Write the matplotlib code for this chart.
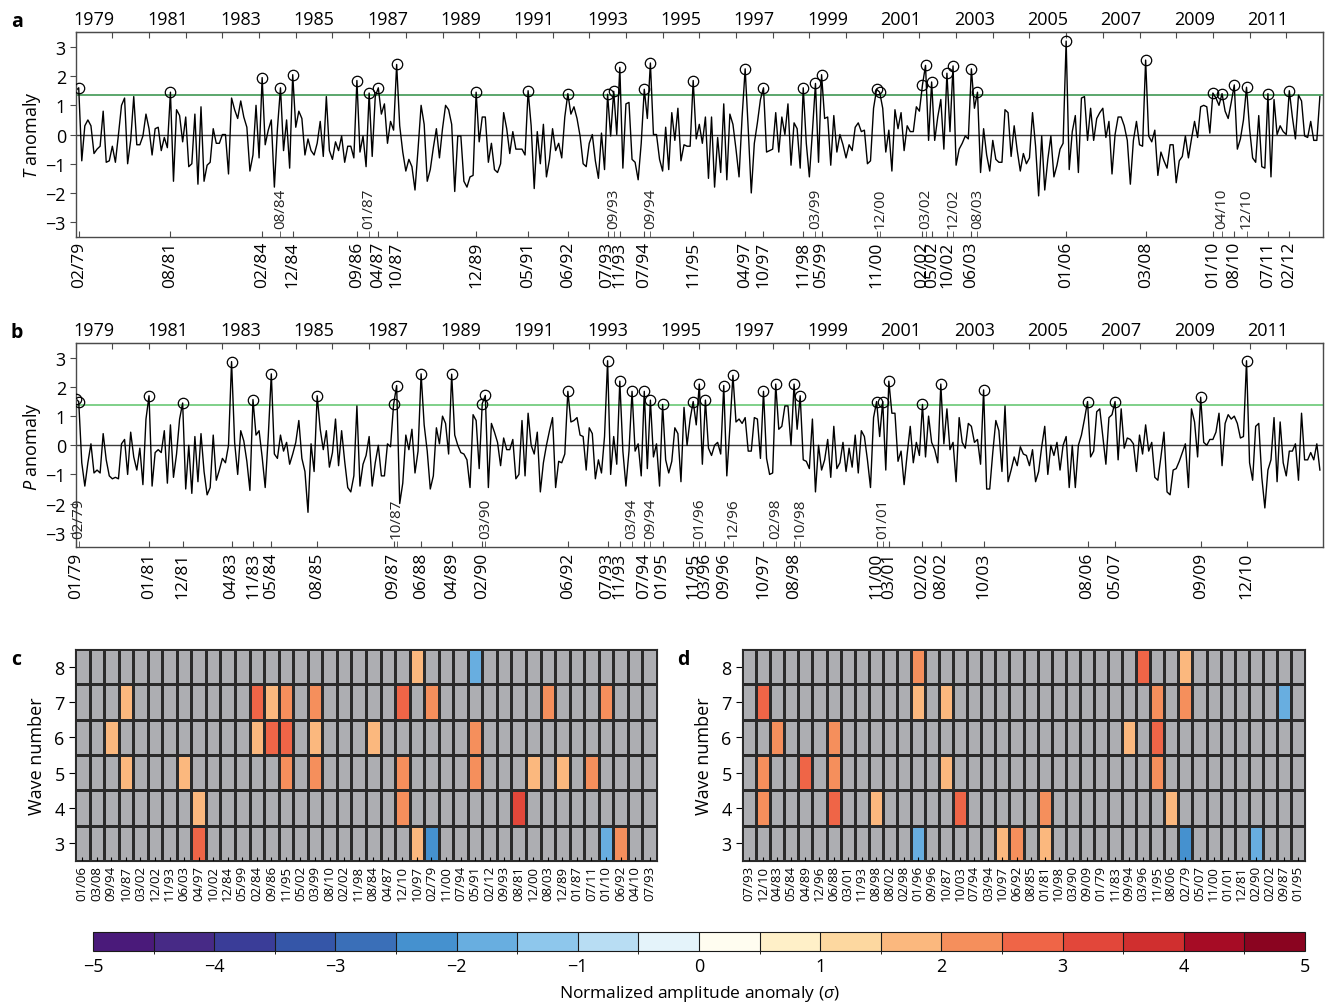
import numpy as np
import matplotlib as mpl
import matplotlib.pyplot as plt
from matplotlib.colors import ListedColormap, BoundaryNorm
from matplotlib.transforms import blended_transform_factory

plt.rcParams['font.family'] = ['Open Sans', 'DejaVu Sans']
plt.rcParams['mathtext.fontset'] = 'custom'
plt.rcParams['mathtext.it'] = 'Open Sans:italic'
plt.rcParams['mathtext.rm'] = 'Open Sans'

# monthly anomalies, Jan 1979 .. Dec 2012 (one row per year)
t_anom = [
    1.5, 1.6, -0.9, 0.3, 0.5, 0.3, -0.65, -0.5, -0.4, 0.8, -0.95, -0.9,
    -0.4, -0.95, 0.0, 1.0, 1.25, -1.0, -0.2, 1.3, -0.35, -0.35, -0.05, 0.7,
    0.2, -0.7, 0.2, 0.25, -0.55, -0.1, -0.45, 1.45, -1.6, 0.85, 0.65, -0.25,
    0.6, -1.1, -1.0, 0.7, -1.7, 0.95, -1.6, -1.05, -0.95, 0.2, -0.3, -0.3,
    0.0, 0.0, -1.35, 1.25, 0.85, 0.55, 1.15, 0.6, 0.25, -1.25, -0.7, 1.0,
    -0.8, 1.95, -0.35, 0.15, 0.5, -1.8, 0.2, 1.6, -0.55, 0.5, -1.15, 2.05,
    0.25, 0.8, 0.55, -0.7, -0.15, -0.55, -0.7, -0.3, 0.45, -0.75, 1.3, -0.55,
    -0.85, -0.25, -0.55, -0.05, -0.95, -0.4, -0.4, -0.8, 1.85, -0.6, -0.05, -1.1,
    1.42, -0.75, 1.3, 1.6, 0.7, 1.05, -0.3, 0.45, 0.15, 2.4, 0.3, -0.6,
    -1.25, -0.85, -1.1, -1.9, -0.5, 1.0, 0.35, -1.6, -1.2, -0.45, 0.2, -0.8,
    0.2, 1.0, 0.85, 0.35, -1.95, -0.05, -0.05, -1.6, -1.8, -1.45, -1.4, 1.45,
    -0.25, 0.6, 0.6, -0.95, -0.3, -1.2, -1.3, -1.0, 0.75, 0.2, -0.65, 0.1,
    -0.5, -0.5, -0.5, -0.7, 1.5, 0.3, -1.85, 0.1, -1.0, 0.35, -1.45, -0.85,
    0.2, -0.55, -0.3, -0.8, 0.6, 1.4, 0.7, 0.95, 0.55, -0.05, -1.0, -1.1,
    -0.3, 0.0, -0.9, -1.5, 0.05, -1.2, 1.38, -0.05, 1.48, 0.0, 2.3, -1.15,
    1.05, 1.1, -0.85, -0.95, -1.55, -0.3, 1.55, 0.55, 2.45, 0.0, 0.0, -0.85,
    -1.25, 0.25, -1.2, 0.75, -0.2, 0.9, -0.9, -0.35, -0.4, -0.4, 1.85, -0.15,
    0.35, -0.3, 0.6, -1.5, 0.6, -1.8, -0.1, -1.3, 1.05, -1.55, 0.7, 0.35,
    -0.5, -1.45, 0.6, 2.25, 0.2, -2.0, -0.3, 0.4, 1.2, 1.6, -0.6, -0.55,
    -0.5, 0.75, -0.6, 0.6, 0.0, 1.05, -1.05, 0.4, 0.2, -1.15, 1.6, -0.3,
    -1.45, 0.1, 1.75, -0.95, 2.05, 0.55, 0.6, -1.05, 0.65, -0.6, 0.0, -0.35,
    -0.8, -0.35, -0.55, 0.25, 0.4, 0.1, 0.15, -1.0, -0.9, 0.9, 1.55, 1.45,
    0.9, -0.6, 0.15, -1.25, 0.85, 0.2, 0.75, -0.55, 0.3, 0.1, 0.1, 0.95,
    0.8, 1.7, 2.37, -0.2, 1.8, -0.2, 0.6, 1.2, -0.5, 2.1, 0.1, 2.35,
    -1.05, -0.5, -0.3, -0.05, -0.15, 2.25, 0.9, 1.45, -1.3, 0.2, -0.7, -1.25,
    -0.2, -0.85, -0.95, -0.95, 0.85, 0.75, -0.75, 0.3, -0.55, -1.25, -0.65, -1.0,
    -0.8, 0.75, -0.4, -2.1, -0.05, -1.9, -0.85, -0.05, -1.45, -1.05, -0.5, -0.3,
    3.2, -1.2, 0.1, 0.65, -1.3, 1.25, 1.3, -0.2, 0.9, -0.2, 0.55, 0.75,
    0.9, -0.1, 0.45, -1.35, 0.0, 0.6, 0.6, 0.3, -0.2, -1.7, -0.2, 0.45,
    -0.35, -0.4, 2.55, -0.05, -0.25, 0.15, -1.4, -0.6, -0.9, -1.15, -0.35, -0.35,
    -1.65, -0.9, -0.75, -0.05, -0.8, -0.15, 0.45, -0.1, 0.95, 1.0, 0.95, 0.05,
    1.42, 1.25, 1.0, 1.4, 0.8, 0.55, 1.1, 1.7, -0.5, -0.15, 0.5, 1.62,
    0.2, -0.8, -0.95, 0.65, -1.1, -1.15, 1.4, -1.45, 1.2, 0.0, 0.3, 0.1,
    0.0, 1.5, 0.6, -0.15, 1.35, 1.15, -0.05, -0.1, 0.45, -0.2, -0.2, 1.3,
]

p_anom = [
    1.6, 1.5, -0.6, -1.4, -0.6, 0.05, -0.95, -0.85, -0.95, 0.4, -0.5, -1.05,
    -1.15, -1.1, -1.15, 0.05, 0.2, -1.0, 0.45, -0.4, -0.85, -0.1, -1.35, 0.9,
    1.7, -1.4, -0.25, -0.15, -0.25, 0.5, -1.3, 0.7, -1.1, -0.3, 0.9, 1.45,
    -1.5, 0.0, -1.65, 0.3, -1.25, 0.4, -0.9, -1.7, -1.45, 0.35, -1.2, -0.85,
    -0.45, -0.6, 0.0, 2.87, 0.1, -1.0, 0.5, 0.15, -0.55, -1.55, 1.57, 0.35,
    0.5, -0.4, -1.45, 0.3, 2.45, -0.3, -0.45, 0.35, -0.2, 0.1, -0.65, -0.3,
    0.1, 0.85, -0.45, -0.9, -2.3, 0.05, -0.9, 1.7, 0.55, -0.15, 0.5, -0.75,
    -0.25, 0.9, -0.7, 0.5, -0.55, -1.45, -1.6, -1.05, 1.35, -1.4, -0.65, -0.35,
    0.3, -1.4, -0.6, 0.0, -1.05, -1.05, 0.05, -0.05, 1.4, 2.05, -2.0, -1.3,
    0.35, -0.15, 0.55, -0.95, -0.2, 2.45, 0.7, -0.2, -1.5, -1.05, 0.6, 0.05,
    1.0, 0.75, -0.3, 2.44, 0.35, 0.0, -0.25, -0.3, -0.5, -1.45, 1.05, 0.85,
    -0.8, 1.43, 1.71, -1.45, 0.75, 0.45, 0.1, -0.7, 0.25, -0.15, -0.15, 0.2,
    -1.15, -1.0, 0.85, -1.05, 1.1, 0.0, -0.3, 0.45, -1.6, -0.6, 0.0, 0.5,
    0.95, -1.45, -0.55, -0.6, -0.3, 1.85, 0.8, 0.85, 0.95, 0.35, 0.3, -0.85,
    0.6, 0.4, -1.15, -0.5, -0.95, 0.3, 2.9, -1.0, 0.3, -0.65, 2.2, -0.2,
    -1.4, -0.2, 1.85, -0.2, 0.05, -1.05, 1.85, -0.8, 1.55, -0.4, 0.05, -1.4,
    1.4, -0.5, -0.95, -0.55, 0.6, 0.4, -1.25, 1.3, 0.0, 0.9, 1.5, 0.7,
    2.1, -0.65, 1.55, -0.1, -0.35, 0.0, 0.1, -0.3, 2.05, -1.05, 0.6, 2.4,
    0.8, 0.9, 0.75, 0.95, -0.2, -0.2, 0.95, 0.9, -0.45, 1.85, -0.45, -1.0,
    -0.95, 2.1, 0.55, 0.65, 1.35, 1.35, 0.0, 2.1, 0.55, 1.7, -0.5, -0.55,
    -0.8, 0.9, -1.6, 0.0, -0.85, -0.5, 0.2, -1.1, 0.65, -0.8, -0.6, 0.1,
    -0.9, -0.1, -0.75, 0.35, -0.95, 0.5, 0.3, -0.5, -1.45, 0.95, 1.5, 0.3,
    1.5, -0.85, 2.2, 1.1, 1.1, -0.55, -0.2, -1.35, -0.3, 0.65, -0.6, 0.1,
    -0.35, 1.4, -0.4, 1.0, 0.1, -0.15, -0.6, 2.1, 0.05, 1.25, -0.15, 0.1,
    -1.25, 0.95, 0.1, -0.1, 0.75, 0.65, 0.1, 0.2, -0.65, 1.9, -1.5, -1.5,
    -0.25, 0.85, 0.5, -0.9, 1.35, -1.25, -0.85, -0.4, -0.7, -0.05, -0.3, -0.35,
    -0.7, -0.15, -1.25, -0.9, -0.05, 0.65, -1.0, 0.0, -0.35, 0.1, -0.85, 0.0,
    0.3, -1.45, 0.0, -1.45, 0.0, 0.35, 0.9, 1.5, -0.4, -0.2, 1.15, 1.25,
    0.3, -0.65, 0.95, 1.05, 1.5, -0.5, 1.25, -0.1, 0.25, 0.2, 0.05, -0.9,
    0.35, -0.3, 0.7, -0.2, 0.1, -1.1, -1.2, -0.4, 0.45, -1.6, -1.7, -0.85,
    -0.8, -0.55, -0.25, 0.05, -1.45, 1.25, 0.8, -0.4, 1.65, 0.1, 0.0, 0.2,
    0.2, 0.45, 1.1, -0.7, 0.75, 1.05, 0.9, 1.0, 0.75, 0.25, 0.3, 2.9,
    -0.6, -1.2, 0.65, 0.75, -1.1, -2.15, -0.85, -0.5, 0.95, -1.25, 0.8, -0.6,
    -1.05, -0.2, -0.2, 0.05, -1.2, 1.1, -0.5, -0.5, -0.25, -0.5, 0.05, -0.85,
]

threshold = 1.37

# extreme events: labels under the axis / labels drawn inside the axis
t_events_out = ['02/79', '08/81', '02/84', '12/84', '09/86', '04/87', '10/87', '12/89',
                '05/91', '06/92', '07/93', '11/93', '07/94', '11/95', '04/97', '10/97',
                '11/98', '05/99', '11/00', '02/02', '05/02', '10/02', '06/03', '01/06',
                '03/08', '01/10', '08/10', '07/11', '02/12']
t_events_in = ['08/84', '01/87', '09/93', '09/94', '03/99', '12/00', '03/02', '12/02',
               '08/03', '04/10', '12/10']
p_events_out = ['01/79', '01/81', '12/81', '04/83', '11/83', '05/84', '08/85', '09/87',
                '06/88', '04/89', '02/90', '06/92', '07/93', '11/93', '07/94', '01/95',
                '11/95', '03/96', '09/96', '10/97', '08/98', '11/00', '03/01', '02/02',
                '08/02', '10/03', '08/06', '05/07', '09/09', '12/10']
p_events_in = ['02/79', '10/87', '03/90', '03/94', '09/94', '01/96', '12/96', '02/98',
               '10/98', '01/01']

c_columns = ['01/06', '03/08', '09/94', '10/87', '03/02', '12/02', '11/93', '06/03',
             '04/97', '10/02', '12/84', '05/99', '02/84', '09/86', '11/95', '05/02',
             '03/99', '08/10', '02/02', '11/98', '08/84', '04/87', '12/10', '10/97',
             '02/79', '11/00', '07/94', '05/91', '02/12', '09/93', '08/81', '12/00',
             '08/03', '12/89', '01/87', '07/11', '01/10', '06/92', '04/10', '07/93']
# (wave number, event, normalized amplitude anomaly) for significant cells
c_cells = [
    (8, '10/97', 1.75), (8, '05/91', -1.75),
    (7, '10/87', 1.75), (7, '02/84', 2.75), (7, '09/86', 1.75), (7, '11/95', 2.25),
    (7, '03/99', 2.25), (7, '12/10', 2.75), (7, '02/79', 2.25), (7, '08/03', 2.25),
    (7, '01/10', 2.25),
    (6, '09/94', 1.75), (6, '02/84', 1.75), (6, '09/86', 2.75), (6, '11/95', 2.75),
    (6, '03/99', 1.75), (6, '08/84', 1.75), (6, '05/91', 2.25),
    (5, '10/87', 1.75), (5, '06/03', 1.75), (5, '11/95', 2.25), (5, '03/99', 2.25),
    (5, '12/10', 2.25), (5, '05/91', 2.25), (5, '12/00', 1.75), (5, '12/89', 1.75),
    (5, '07/11', 2.25),
    (4, '04/97', 1.75), (4, '12/10', 2.25), (4, '08/81', 3.25),
    (3, '04/97', 2.75), (3, '10/97', 1.75), (3, '02/79', -2.25), (3, '01/10', -1.75),
    (3, '06/92', 2.25),
]

d_columns = ['07/93', '12/10', '04/83', '05/84', '04/89', '12/96', '06/88', '03/01',
             '11/93', '08/98', '08/02', '02/98', '01/96', '09/96', '10/87', '10/03',
             '07/94', '03/94', '10/97', '06/92', '08/85', '01/81', '10/98', '03/90',
             '09/09', '01/79', '11/83', '09/94', '03/96', '11/95', '08/06', '02/79',
             '05/07', '11/00', '01/01', '12/81', '02/90', '02/02', '09/87', '01/95']
d_cells = [
    (8, '01/96', 2.25), (8, '03/96', 2.75), (8, '02/79', 1.75),
    (7, '12/10', 2.75), (7, '01/96', 1.75), (7, '10/87', 1.75), (7, '11/95', 2.25),
    (7, '02/79', 2.25), (7, '09/87', -1.75),
    (6, '04/83', 2.25), (6, '06/88', 2.25), (6, '09/94', 1.75), (6, '11/95', 2.75),
    (5, '12/10', 2.25), (5, '04/89', 2.75), (5, '06/88', 2.25), (5, '10/87', 1.75),
    (5, '11/95', 2.25),
    (4, '12/10', 2.25), (4, '06/88', 2.75), (4, '08/98', 1.75), (4, '10/03', 2.75),
    (4, '01/81', 2.25), (4, '08/06', 1.75),
    (3, '01/96', -1.75), (3, '10/97', 1.75), (3, '06/92', 2.25), (3, '01/81', 1.75),
    (3, '02/79', -2.25), (3, '02/90', -1.75),
]

cbar_colors = ['#4a1a7a', '#472a86', '#3a3d98', '#3556a8', '#3a6fb8',
               '#4591cf', '#68aee0', '#8ec7ec', '#b8ddf3', '#e4f3fa',
               '#fffdf0', '#fff0c8', '#fdd8a0', '#fbb87e', '#f58f5c',
               '#ef6547', '#e2473a', '#d02f2f', '#a60c25', '#8a0420']
cbar_bounds = np.arange(-5, 5.01, 0.5)

cmap = ListedColormap(cbar_colors)
cmap.set_bad('#adaeb2')
norm = BoundaryNorm(cbar_bounds, cmap.N)

spine_col = '#4a4a4a'


def month_index(lab):
    mm, yy = lab.split('/')
    year = 1900 + int(yy) if int(yy) > 50 else 2000 + int(yy)
    return (year - 1979) * 12 + int(mm) - 1


def series_panel(ax, vals, ev_out, ev_in, ylabel, thr_color):
    vals = np.array(vals)
    x = 1979 + np.arange(len(vals)) / 12
    ax.axhline(0, color='#3a3a3a', lw=1.0, zorder=1)
    ax.axhline(threshold, color=thr_color, lw=1.1, zorder=1)
    ax.plot(x, vals, color='black', lw=1.0, zorder=2)
    idx = sorted(month_index(e) for e in ev_out + ev_in)
    ax.plot(x[idx], vals[idx], 'o', ms=7.5, mfc='none', mec='black', mew=0.9, zorder=3)

    ax.set_xlim(1979, 2013)
    ax.set_ylim(-3.5, 3.5)
    ax.set_yticks(range(-3, 4))
    ax.set_yticklabels(['\u22123', '\u22122', '\u22121', '0', '1', '2', '3'])
    ax.set_ylabel(ylabel, fontsize=13, labelpad=2)
    ax.tick_params(axis='y', labelsize=13, length=4, color=spine_col, pad=3)

    xo = [1979 + month_index(e) / 12 for e in ev_out]
    ax.set_xticks(xo)
    ax.set_xticklabels(ev_out, rotation=90, fontsize=12.5)
    xi = [1979 + month_index(e) / 12 for e in ev_in]
    ax.set_xticks(xi, minor=True)
    ax.tick_params(axis='x', which='both', direction='in', length=4, color=spine_col, pad=3)

    tr = blended_transform_factory(ax.transData, ax.transAxes)
    for e, xx in zip(ev_in, xi):
        ax.text(xx, 0.045, e, transform=tr, rotation=90, ha='center', va='bottom',
                fontsize=11, color='#222222')

    top = ax.secondary_xaxis('top')
    top.set_xticks(range(1979, 2014))
    top.set_xticklabels([])
    years = list(range(1979, 2013, 2))
    top.set_xticks([y + 0.5 for y in years], minor=True)
    top.set_xticklabels([str(y) for y in years], minor=True, fontsize=13)
    top.tick_params(which='major', direction='in', length=4, color=spine_col)
    top.tick_params(which='minor', length=0, pad=3)
    top.spines['top'].set_color(spine_col)

    for s in ax.spines.values():
        s.set_color(spine_col)
        s.set_linewidth(1.0)


def wave_panel(ax, cols, cells):
    grid = np.full((6, len(cols)), np.nan)
    for wave, lab, v in cells:
        grid[wave - 3, cols.index(lab)] = v
    ax.set_facecolor('#adaeb2')
    ax.pcolormesh(np.arange(len(cols) + 1), np.arange(2.5, 9.0, 1.0),
                  np.ma.masked_invalid(grid), cmap=cmap, norm=norm,
                  edgecolors='#2a2a2a', linewidth=0.9)
    ax.set_xlim(0, len(cols))
    ax.set_ylim(2.5, 8.5)
    ax.set_xticks(np.arange(len(cols)) + 0.5)
    ax.set_xticklabels(cols, rotation=90, fontsize=9.5)
    ax.tick_params(axis='x', direction='in', length=3, pad=3)
    ax.set_yticks(range(3, 9))
    ax.tick_params(axis='y', labelsize=13, length=4)
    ax.set_ylabel('Wave number', fontsize=13, labelpad=6)
    for s in ax.spines.values():
        s.set_color('#2a2a2a')


fig = plt.figure(figsize=(13.32, 10.04), dpi=100)

ax_a = fig.add_axes([0.0568, 0.7632, 0.9364, 0.2036])
series_panel(ax_a, t_anom, t_events_out, t_events_in, '$T$ anomaly', '#2f8f45')

ax_b = fig.add_axes([0.0568, 0.4539, 0.9364, 0.2032])
series_panel(ax_b, p_anom, p_events_out, p_events_in, '$P$ anomaly', '#5cc46a')

ax_c = fig.add_axes([0.0563, 0.1414, 0.4369, 0.2112])
wave_panel(ax_c, c_columns, c_cells)

ax_d = fig.add_axes([0.5571, 0.1414, 0.4227, 0.2112])
wave_panel(ax_d, d_columns, d_cells)

cax = fig.add_axes([0.0698, 0.0518, 0.9099, 0.0189])
cb = mpl.colorbar.ColorbarBase(cax, cmap=cmap, norm=norm, orientation='horizontal',
                               ticks=range(-5, 6), drawedges=True)
cb.dividers.set_color('#1a1a1a')
cb.dividers.set_linewidth(0.8)
cb.outline.set_edgecolor('#1a1a1a')
cb.ax.set_xticklabels(['\u22125', '\u22124', '\u22123', '\u22122', '\u22121', '0',
                       '1', '2', '3', '4', '5'])
cb.ax.tick_params(length=0, labelsize=13, pad=4)
cb.set_label('Normalized amplitude anomaly ($\\sigma$)', fontsize=12.5, labelpad=6)

for lab, (fx, fy) in zip('abcd', [(0.008, 0.978), (0.008, 0.668), (0.008, 0.343), (0.508, 0.343)]):
    fig.text(fx, fy, lab, fontsize=14, fontweight='bold', va='center', ha='left')

fig.savefig('out.png', dpi=100)
